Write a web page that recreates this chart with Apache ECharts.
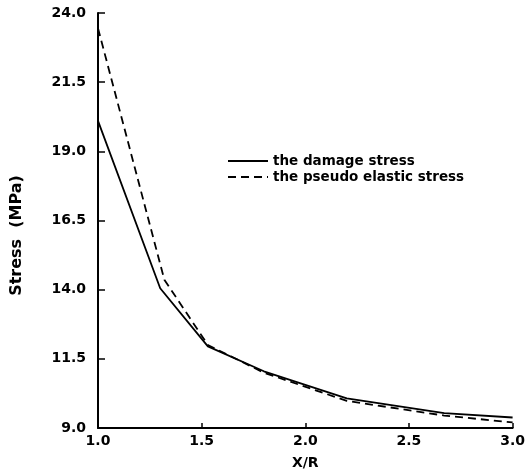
<!DOCTYPE html>
<html>
<head>
<meta charset="utf-8">
<script src="https://cdn.jsdelivr.net/npm/echarts@6/dist/echarts.min.js"></script>
<style>
  html, body { margin: 0; padding: 0; background: #fff; }
  #main { width: 528px; height: 475px; }
</style>
</head>
<body>
<div id="main"></div>
<script>
// 数据
const xDamage = [1.0, 1.3, 1.53, 1.8, 2.2, 2.67, 3.0];
const damageStress = [20.1, 14.05, 11.95, 11.05, 10.07, 9.54, 9.38];
const xPseudo = [1.0, 1.32, 1.53, 1.8, 2.2, 2.67, 3.0];
const pseudoStress = [23.45, 14.36, 12.0, 11.0, 9.98, 9.45, 9.2];
const yTicks = [9.0, 11.5, 14.0, 16.5, 19.0, 21.5, 24.0];

const font = 'DejaVu Sans';
var myChart = echarts.init(document.getElementById('main'));

myChart.setOption({
  animation: false,
  color: ['#000', '#000'],
  grid: { left: 98, right: 7, top: 13, bottom: 40 },
  legend: {
    orient: 'vertical',
    left: 222,
    top: 149,
    itemWidth: 40,
    itemHeight: 10,
    itemGap: 2,
    itemStyle: { opacity: 0 },
    textStyle: { fontFamily: font, fontWeight: 'bold', fontSize: 13.5, color: '#000' },
    data: ['the damage stress', 'the pseudo elastic stress']
  },
  xAxis: {
    type: 'value',
    min: 1,
    max: 3,
    interval: 0.5,
    name: 'X/R',
    nameLocation: 'middle',
    nameGap: 28,
    nameTextStyle: { fontFamily: font, fontWeight: 'bold', fontSize: 14, color: '#000' },
    axisLine: { lineStyle: { color: '#000', width: 2 } },
    axisTick: { inside: true, length: 5, lineStyle: { color: '#000', width: 1.5 } },
    axisLabel: {
      fontFamily: font, fontWeight: 'bold', fontSize: 14, color: '#000', margin: 6,
      formatter: v => v.toFixed(1)
    },
    splitLine: { show: false }
  },
  yAxis: {
    type: 'value',
    min: 9,
    max: 24,
    name: 'Stress  (MPa)',
    nameLocation: 'middle',
    nameGap: 73,
    nameTextStyle: { fontFamily: font, fontWeight: 'bold', fontSize: 16, color: '#000', padding: [0, 30, 0, 0] },
    axisLine: { show: true, lineStyle: { color: '#000', width: 2 } },
    axisTick: { show: true, inside: true, length: 7, customValues: yTicks, lineStyle: { color: '#000', width: 1.5 } },
    axisLabel: {
      fontFamily: font, fontWeight: 'bold', fontSize: 14, color: '#000', margin: 12,
      customValues: yTicks,
      formatter: v => v.toFixed(1)
    },
    splitLine: { show: false }
  },
  series: [
    {
      name: 'the damage stress',
      type: 'line',
      symbol: 'none',
      data: xDamage.map((x, i) => [x, damageStress[i]]),
      lineStyle: { color: '#000', width: 1.8, type: 'solid' }
    },
    {
      name: 'the pseudo elastic stress',
      type: 'line',
      symbol: 'none',
      data: xPseudo.map((x, i) => [x, pseudoStress[i]]),
      lineStyle: { color: '#000', width: 1.8, type: [8, 5] }
    }
  ]
});
</script>
</body>
</html>
